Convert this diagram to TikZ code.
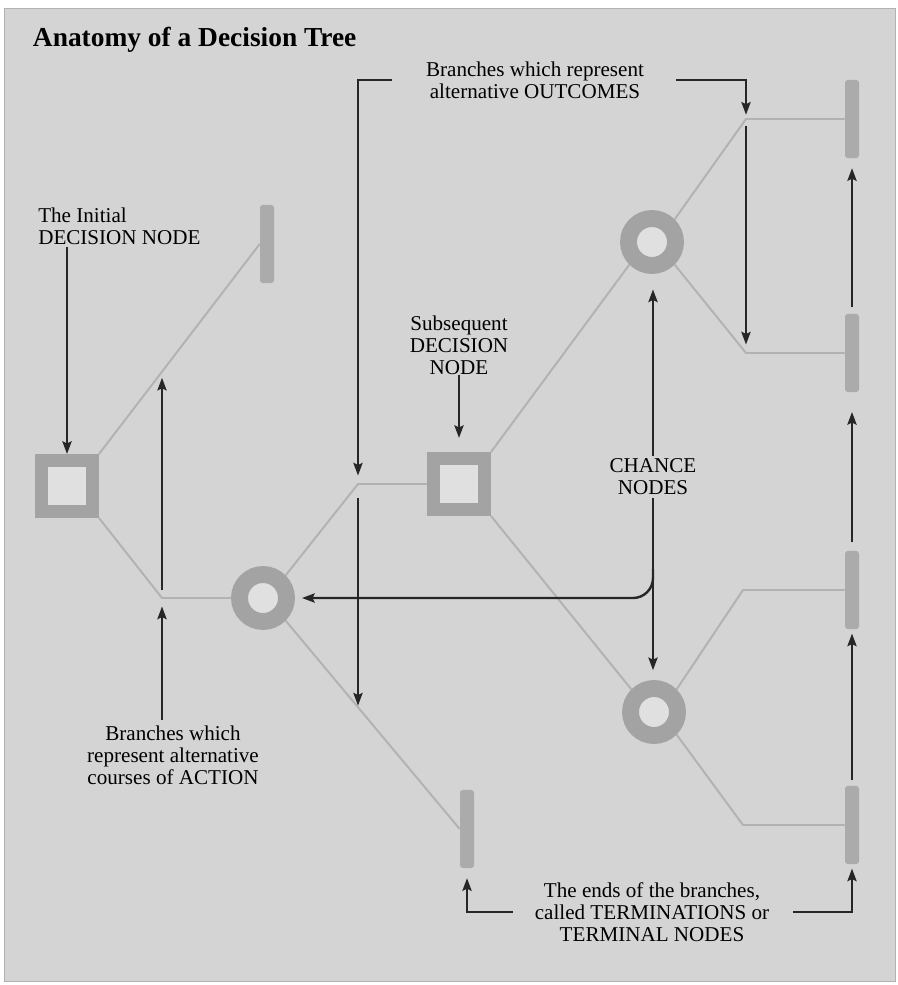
\documentclass[tikz,border=0pt]{standalone}
\usepackage{fontspec}
\setmainfont{Liberation Serif}
\usetikzlibrary{arrows.meta,calc}
\definecolor{paper}{gray}{0.83}
\definecolor{hole}{gray}{0.88}
\definecolor{nodegray}{gray}{0.64}
\definecolor{bargray}{gray}{0.67}
\definecolor{linegray}{gray}{0.7}
\begin{document}
\begin{tikzpicture}[x=0.025cm, y=-0.025cm,
    D/.style={draw=nodegray, fill=hole, line width=9.2pt, minimum size=1.275cm, inner sep=0pt},
    C/.style={circle, draw=nodegray, fill=hole, line width=12pt, minimum size=1.175cm, inner sep=0pt},
    T/.style={fill=bargray, rounded corners=2pt, minimum width=0.35cm, minimum height=1.95cm, inner sep=0pt},
    br/.style={draw=linegray, line width=1.4pt},
    ar/.style={draw=black!85, line width=1.7pt, -{Stealth[length=9pt, width=6.5pt, inset=1.5pt]}},
    L/.style={font=\fontsize{15}{15.6}\selectfont, align=center, inner sep=0pt}
  ]
  \useasboundingbox (0,0) rectangle (898,985);
  \draw[fill=paper, draw=gray!60, line width=0.6pt] (4,8) rectangle (895,981);
  \node[anchor=base west, font=\fontsize{19.5}{22}\selectfont\bfseries] (title) at (28,47) {Anatomy of a Decision Tree};

  \node[L, align=left, anchor=west] (Linit) at (38,226) {The Initial\\DECISION NODE};
  \node[L] (Lact) at (173,755) {Branches which\\represent alternative\\courses of ACTION};
  \node[L] (Lout) at (535,80) {Branches which represent\\alternative OUTCOMES};
  \node[L] (Lsub) at (459,345) {Subsequent\\DECISION\\NODE};
  \node[L] (Lch) at (653,477) {CHANCE\\NODES};
  \node[L] (Lterm) at (652,912) {The ends of the branches,\\called TERMINATIONS or\\TERMINAL NODES};

  \node[D] (D1) at (67,486) {};
  \node[D] (D2) at (459,484) {};
  \node[C] (C1) at (263,598) {};
  \node[C] (C2) at (652,242) {};
  \node[C] (C3) at (654,712) {};
  \node[T] (T1) at (267,244) {};
  \node[T] (T2) at (467,829) {};
  \foreach \n/\y in {3/119, 4/353, 5/590, 6/825}
    \node[T] (T\n) at (852,\y) {};

  \coordinate (J1) at (162,598);
  \coordinate (J2) at (358,484);
  \coordinate (J3) at (746,119);
  \coordinate (J4) at (746,353);
  \coordinate (J5) at (743,590);
  \coordinate (J6) at (743,825);

  \draw[br] (D1.north east) -- coordinate[pos=.39] (B1) (T1.west);
  \draw[br] (D1.south east) -- (J1) -- (C1.west);
  \draw[br] (C1.north east) -- (J2) -- (D2.west);
  \draw[br] (C1.south east) -- coordinate[pos=.415] (B2) (T2.west);
  \draw[br] (D2.north east) -- (C2.south west);
  \draw[br] (D2.south east) -- (C3.north west);
  \draw[br] (C2.north east) -- (J3) -- (T3.west);
  \draw[br] (C2.south east) -- (J4) -- (T4.west);
  \draw[br] (C3.north east) -- (J5) -- (T5.west);
  \draw[br] (C3.south east) -- (J6) -- (T6.west);

  \draw[ar, shorten <=2pt] (Linit.south -| D1) -- (D1.north);
  \draw[ar, shorten <=4pt, shorten >=6pt] (Lact.north -| J1) -- (J1);
  \draw[ar, shorten <=6pt, shorten >=4pt] (J1) -- (J1 |- B1);
  \draw[ar, shorten >=6pt] ([xshift=-0.85cm]Lout.west) -| (J2);
  \draw[ar, shorten <=10pt, shorten >=1pt] (J2) -- (J2 |- B2);
  \draw[ar, shorten >=3pt] ([xshift=0.8cm]Lout.east) -| (J3);
  \draw[ar, shorten <=5pt, shorten >=6pt] (J3) -- (J4);
  \draw[ar, shorten >=10pt] (Lsub.south -| D2) -- (D2.north);
  \draw[ar, shorten <=2pt, shorten >=11pt] (Lch.north) -- (Lch.north |- C2.south);
  \draw[ar, shorten <=2pt, shorten >=7pt] (Lch.south) -- (Lch.south |- C3.north);
  \draw[ar, rounded corners=0.5cm, shorten >=5pt] ($(Lch.south)!.4!(Lch.south |- C3.north)$) |- (C1.east);
  \draw[ar, shorten >=7pt] ([xshift=-0.55cm]Lterm.west) -| (T2.south);
  \draw[ar, shorten >=3pt] ([xshift=0.6cm]Lterm.east) -| (T6.south);
  \draw[ar, shorten <=4pt, shorten >=3pt] (T6.north) -- (T5.south);
  \draw[ar, shorten <=6pt, shorten >=14pt] (T5.north) -- (T4.south);
  \draw[ar, shorten <=5pt, shorten >=7pt] (T4.north) -- (T3.south);
\end{tikzpicture}
\end{document}
